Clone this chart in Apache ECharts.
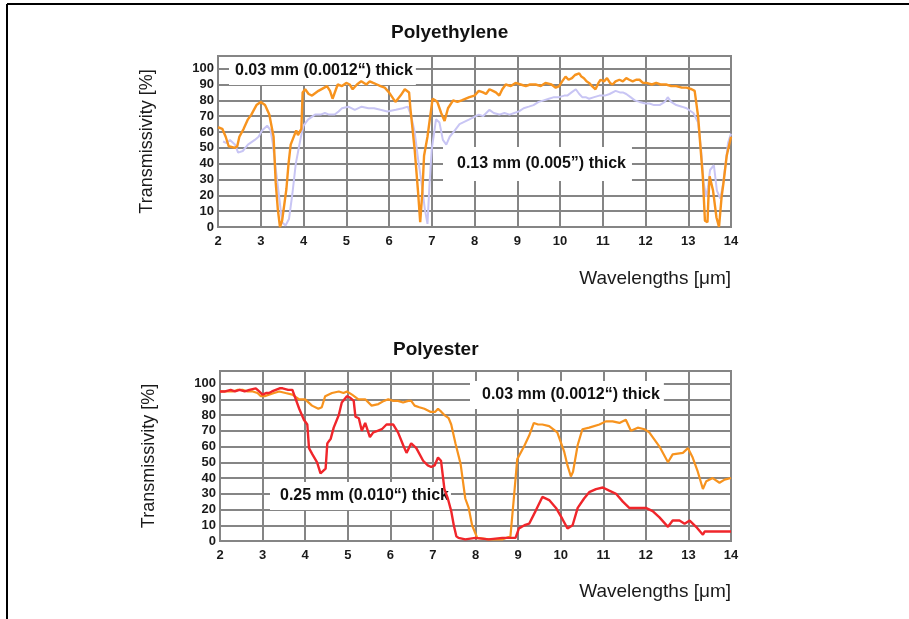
<!DOCTYPE html>
<html>
<head>
<meta charset="utf-8">
<script src="https://cdn.jsdelivr.net/npm/echarts@6/dist/echarts.min.js"></script>
<style>
html,body{margin:0;padding:0;background:#fff;}
#c{width:909px;height:619px;}
</style>
</head>
<body>
<div id="c"></div>
<script>
// ---------- data (wavelength in µm, transmissivity in %) ----------
const titles = ['Polyethylene', 'Polyester'];
const xTicks = [2, 3, 4, 5, 6, 7, 8, 9, 10, 11, 12, 13, 14];
const yTicks = [0, 10, 20, 30, 40, 50, 60, 70, 80, 90, 100];
const seriesNames = ['0.03 mm (0.0012\u201c) thick', '0.13 mm (0.005\u201d) thick', '0.03 mm (0.0012\u201c) thick', '0.25 mm (0.010\u201c) thick'];

// Polyethylene 0.03 mm
const pe003X = [2.0,2.1,2.18,2.25,2.4,2.45,2.5,2.6,2.7,2.78,2.9,3.0,3.1,3.2,3.3,3.35,3.4,3.45,3.5,3.6,3.65,3.7,3.83,3.87,3.95,3.98,4.04,4.12,4.2,4.35,4.55,4.62,4.68,4.8,4.9,5.0,5.08,5.15,5.25,5.35,5.47,5.55,5.63,5.72,5.8,5.9,6.0,6.15,6.27,6.37,6.47,6.5,6.6,6.68,6.73,6.78,6.82,6.9,7.02,7.08,7.13,7.22,7.3,7.38,7.5,7.6,7.7,7.88,8.0,8.1,8.2,8.27,8.35,8.43,8.5,8.58,8.65,8.73,8.85,8.96,9.08,9.2,9.3,9.43,9.55,9.66,9.8,9.9,9.98,10.05,10.13,10.2,10.28,10.35,10.45,10.5,10.56,10.62,10.68,10.75,10.83,10.9,10.95,11.03,11.1,11.17,11.23,11.3,11.39,11.47,11.55,11.62,11.7,11.78,11.86,11.94,12.02,12.15,12.25,12.35,12.48,12.6,12.72,12.85,12.96,13.08,13.15,13.23,13.29,13.34,13.39,13.45,13.47,13.5,13.58,13.66,13.72,13.78,13.82,13.9,14.0];
const pe003Y = [63,62,57,51,50,51,57,62,68,71,77,79,77,71,57,28,11,0,4,24,40,52,61,58,62,85,87,84,83,86,89,86,81,90,89,91,90,87,90,92,90,92,91,90,89,88,85,79,83,87,85,75,49,22,3,22,45,57,81,80,79,72,67,75,80,79,80,82,83,86,85,84,87,86,85,83,87,90,89,91,90,89,90,90,89,91,90,88,89,92,95,93,94,96,97,95,94,92,91,89,87,91,93,92,94,91,90,92,93,92,94,93,92,93,93,91,91,90,91,90,90,89,89,88,88,87,86,70,49,32,4,3,17,32,23,6,0,19,27,45,57];

// Polyethylene 0.13 mm
const pe013X = [2.12,2.2,2.28,2.4,2.47,2.58,2.7,2.86,2.95,3.03,3.15,3.23,3.28,3.35,3.43,3.5,3.58,3.66,3.74,3.82,3.94,4.0,4.11,4.27,4.4,4.5,4.6,4.73,4.82,4.9,5.05,5.2,5.36,5.52,5.65,5.8,5.96,6.16,6.32,6.44,6.52,6.6,6.68,6.76,6.84,6.9,6.95,7.0,7.1,7.18,7.26,7.34,7.42,7.54,7.65,7.88,8.1,8.2,8.35,8.45,8.58,8.7,8.82,8.93,9.04,9.15,9.27,9.38,9.5,9.62,9.74,9.86,9.98,10.1,10.17,10.27,10.37,10.45,10.52,10.6,10.68,10.8,10.92,11.05,11.16,11.3,11.4,11.47,11.55,11.65,11.75,11.86,12.0,12.09,12.2,12.33,12.45,12.52,12.6,12.72,12.85,12.96,13.12,13.23,13.3,13.36,13.42,13.46,13.51,13.6,13.67,13.75,13.82,13.93,14.0];
const pe013Y = [54,53,55,52,47,48,52,55,57,61,64,61,53,37,19,3,1,5,21,40,57,64,68,71,71,72,71,71,73,75,76,74,76,75,75,74,73,74,75,76,70,60,43,28,11,2,28,49,68,66,55,52,57,61,65,68,71,70,74,72,71,72,71,72,73,75,76,77,79,80,81,82,82,83,83,85,87,84,82,82,81,82,83,83,84,86,85,85,84,82,80,79,78,78,77,77,79,82,79,77,76,75,72,66,49,28,19,25,36,39,23,18,28,53,59];

// Polyester 0.03 mm
const pes003X = [2.0,2.15,2.3,2.42,2.53,2.65,2.77,2.88,2.96,3.05,3.15,3.27,3.39,3.54,3.7,3.86,4.0,4.16,4.31,4.39,4.47,4.63,4.79,4.9,4.98,5.1,5.25,5.41,5.56,5.72,5.85,5.95,6.07,6.18,6.3,6.42,6.49,6.57,6.68,6.8,6.95,7.05,7.12,7.2,7.27,7.37,7.43,7.53,7.65,7.76,7.84,7.92,8.04,8.31,8.63,8.82,8.9,8.98,9.14,9.26,9.37,9.47,9.57,9.73,9.92,10.08,10.16,10.24,10.29,10.4,10.51,10.67,10.91,11.06,11.22,11.38,11.53,11.65,11.81,11.97,12.08,12.32,12.52,12.63,12.87,12.99,13.1,13.22,13.34,13.42,13.57,13.73,13.85,14.0];
const pes003Y = [95,95,95,96,96,95,95,94,92,92,93,94,95,94,93,90,90,86,84,85,92,94,95,94,95,93,90,90,86,87,89,90,89,89,88,89,89,86,85,84,82,82,84,82,80,78,74,62,49,27,21,10,2,1,1,3,27,52,60,67,75,74,74,73,69,57,48,41,44,61,71,72,74,76,76,75,77,70,72,71,69,60,50,55,56,59,53,44,33,38,40,37,39,40];

// Polyester 0.25 mm
const pes025X = [2.0,2.12,2.25,2.35,2.46,2.58,2.69,2.84,2.92,3.0,3.08,3.15,3.22,3.31,3.4,3.47,3.6,3.7,3.78,3.86,3.97,4.05,4.09,4.17,4.28,4.36,4.4,4.48,4.52,4.6,4.67,4.79,4.86,4.98,5.06,5.14,5.18,5.26,5.33,5.41,5.52,5.6,5.7,5.8,5.91,6.07,6.18,6.3,6.38,6.49,6.61,6.77,6.88,6.96,7.04,7.12,7.19,7.27,7.35,7.43,7.49,7.55,7.6,7.76,8.0,8.31,8.63,8.94,9.02,9.15,9.26,9.41,9.57,9.73,9.89,10.04,10.16,10.28,10.4,10.55,10.67,10.83,10.99,11.14,11.3,11.46,11.61,11.77,12.0,12.16,12.32,12.52,12.63,12.79,12.91,13.03,13.18,13.34,13.38,13.66,14.0];
const pes025Y = [95,95,96,95,96,95,96,97,95,93,94,94,95,96,97,97,96,96,90,84,77,74,59,55,50,43,42,46,62,65,72,80,88,92,91,89,79,78,70,75,66,69,70,71,74,74,69,61,56,62,59,51,48,47,48,53,51,33,27,19,10,3,2,1,2,1,2,2,8,10,11,19,28,26,21,14,8,10,21,27,31,33,34,32,30,25,21,21,21,19,15,9,13,13,11,13,9,4,6,6,6];

const zip = (xs, ys) => xs.map((x, i) => [x, ys[i]]);

// ---------- styles ----------
const GRID_COL = '#858585';
const ORANGE = '#f7931e';
const LAVENDER = '#c8c5f4';
const RED = '#f0262b';
const FONT = '"Liberation Sans", Arial, Helvetica, sans-serif';

function xAxisFor(gi, padTop) {
  return {
    type: 'value', gridIndex: gi, min: xTicks[0], max: xTicks[xTicks.length - 1], interval: 1,
    axisLine: { show: false }, axisTick: { show: false },
    axisLabel: { margin: 8, color: '#1a1a1a', fontFamily: FONT, fontWeight: 'bold', fontSize: 13 },
    splitLine: { show: true, lineStyle: { color: GRID_COL, width: 2 } },
    name: 'Wavelengths [\u03bcm]', nameLocation: 'end', nameGap: 0,
    nameTextStyle: { align: 'right', verticalAlign: 'top', padding: [padTop, 0, 0, 0], fontFamily: FONT, fontSize: 19, color: '#1a1a1a' }
  };
}
function yAxisFor(gi, shift) {
  return {
    type: 'value', gridIndex: gi, min: yTicks[0], max: 108, interval: 10,
    axisLine: { show: false }, axisTick: { show: false },
    axisLabel: { margin: 4, color: '#1a1a1a', fontFamily: FONT, fontWeight: 'bold', fontSize: 13, showMaxLabel: false, padding: [0, 0, shift, 0],
      formatter: v => (yTicks.indexOf(v) >= 0 ? String(v) : '') },
    splitLine: { show: true, lineStyle: { color: GRID_COL, width: 2 } },
    name: 'Transmissivity [%]', nameLocation: 'middle', nameRotate: 90, nameGap: 62,
    nameTextStyle: { fontFamily: FONT, fontSize: 18, color: '#1a1a1a' }
  };
}
function lineSeries(name, gi, data, color, w) {
  return { type: 'line', name, xAxisIndex: gi, yAxisIndex: gi, data, showSymbol: false, symbol: 'none',
    lineStyle: { color, width: w }, itemStyle: { color }, z: 3, silent: true };
}
function note(text, left, cy, pad) {
  return { type: 'text', x: left - pad[3], y: cy, z: 2,
    style: { text, fill: '#111', font: 'bold 16px ' + FONT, textAlign: 'left', verticalAlign: 'middle',
      backgroundColor: '#fff', padding: pad } };
}

const chart = echarts.init(document.getElementById('c'), null, { renderer: 'canvas' });
chart.setOption({
  animation: false,
  backgroundColor: '#fff',
  title: [
    { text: titles[0], left: 391, top: 23, padding: 0, textStyle: { fontFamily: FONT, fontWeight: 'bold', fontSize: 19, color: '#111' } },
    { text: titles[1], left: 393, top: 340, padding: 0, textStyle: { fontFamily: FONT, fontWeight: 'bold', fontSize: 19, color: '#111' } }
  ],
  grid: [
    { left: 218, top: 56, width: 513, height: 171, show: true, borderColor: GRID_COL, borderWidth: 2, backgroundColor: 'transparent' },
    { left: 220, top: 371, width: 511, height: 170, show: true, borderColor: GRID_COL, borderWidth: 2, backgroundColor: 'transparent' }
  ],
  xAxis: [xAxisFor(0, 42), xAxisFor(1, 41)],
  yAxis: [yAxisFor(0, 4), yAxisFor(1, 10)],
  series: [
    lineSeries(seriesNames[1], 0, zip(pe013X, pe013Y), LAVENDER, 2),
    lineSeries(seriesNames[0], 0, zip(pe003X, pe003Y), ORANGE, 2.4),
    lineSeries(seriesNames[2], 1, zip(pes003X, pes003Y), ORANGE, 2.2),
    lineSeries(seriesNames[3], 1, zip(pes025X, pes025Y), RED, 2.4)
  ],
  graphic: [
    { type: 'line', z: 10, shape: { x1: 7, y1: 4, x2: 909, y2: 4 }, style: { stroke: '#000', lineWidth: 2 } },
    { type: 'line', z: 10, shape: { x1: 7, y1: 4, x2: 7, y2: 619 }, style: { stroke: '#000', lineWidth: 2 } },
    note(seriesNames[0], 235, 71, [6, 3, 6, 6]),
    note(seriesNames[1], 457, 164, [9, 6, 9, 14]),
    note(seriesNames[2], 482, 395, [6, 4, 6, 12]),
    note(seriesNames[3], 280, 496, [6, 2, 6, 10])
  ]
});
</script>
</body>
</html>
